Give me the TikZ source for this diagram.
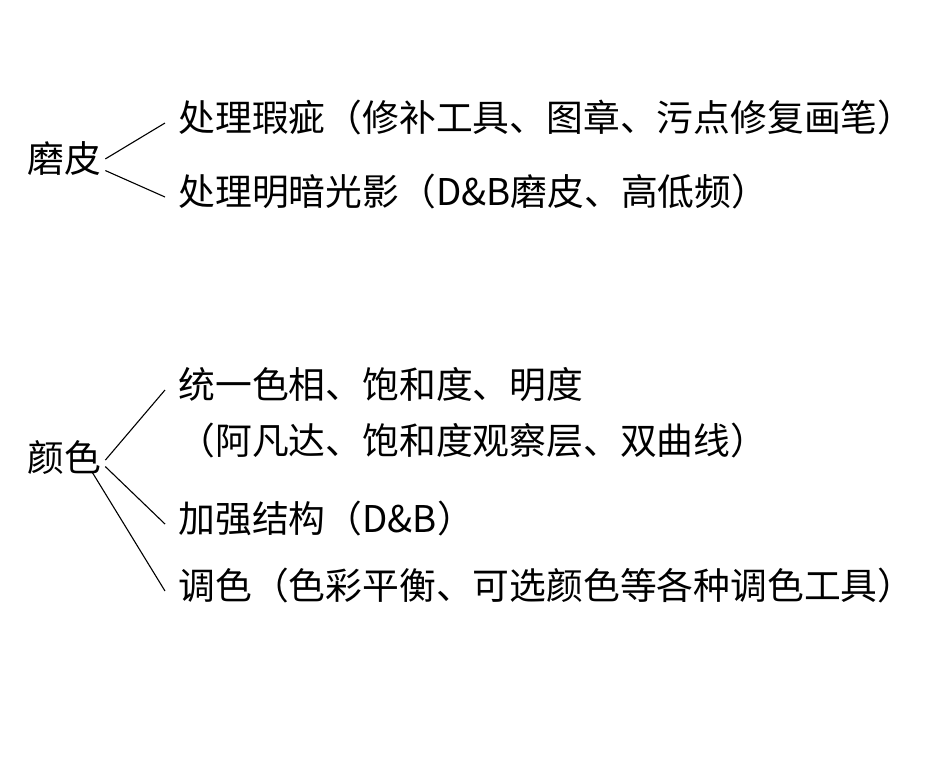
\documentclass[tikz,border=0pt]{standalone}
\usepackage{fontspec}
\setmainfont{Noto Sans CJK SC}
\usepackage{tikz}

\begin{document}
\begin{tikzpicture}[x=1pt, y=-1pt, every node/.style={inner xsep=0pt, inner ysep=0pt, text height=1.72em, text depth=0em, font=\fontsize{36.8pt}{44pt}\selectfont, text=black}, branch/.style={anchor=west, inner xsep=13pt}, root/.style={inner xsep=4pt}, line width=1.1pt]
		\useasboundingbox (0,0) rectangle (927,764);

		\path (64,164) node[root] (mopi) {磨皮}
		(165,123) node[branch] (xiaci) {处理瑕疵（修补工具、图章、污点修复画笔）}
		(165,197) node[branch] (guangying) {处理明暗光影（D\&B磨皮、高低频）};

		\path (64,463) node[root] (yanse) {颜色}
		(165,390) node[branch] (sexiang) {统一色相、饱和度、明度}
		(165,446) node[branch] (tuceng) {（阿凡达、饱和度观察层、双曲线）}
		(165,524) node[branch] (jiegou) {加强结构（D\&B）}
		(165,591) node[branch] (tiaose) {调色（色彩平衡、可选颜色等各种调色工具）};

		\draw (mopi.7) -- (xiaci.west)
		(mopi.-9) -- (guangying.west);

		\draw (yanse.4) -- (sexiang.west)
		(yanse.-5) -- (jiegou.west)
		(yanse.-18) -- (tiaose.west);
	\end{tikzpicture}
\end{document}
